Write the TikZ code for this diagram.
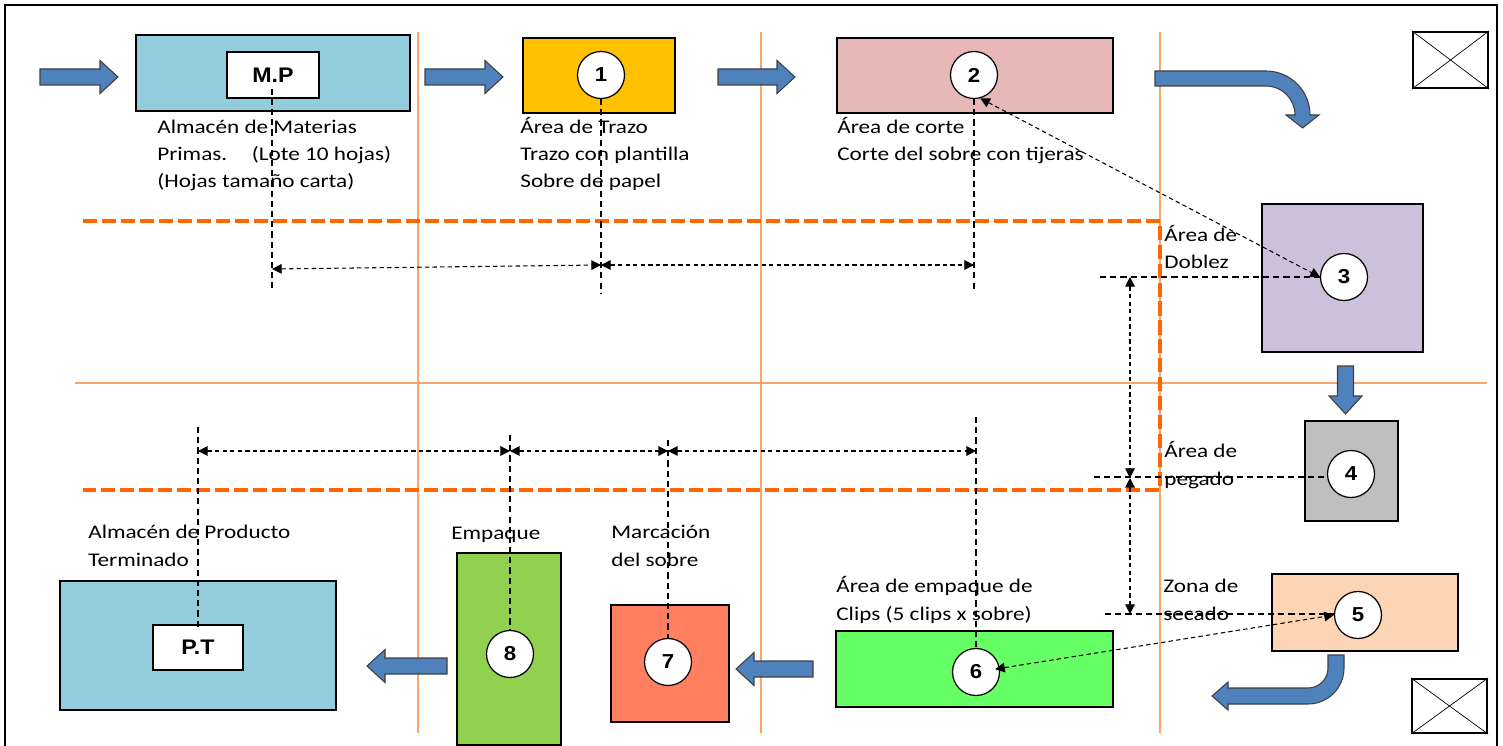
\documentclass[tikz,border=0pt]{standalone}
\usepackage{fontspec}
\usetikzlibrary{arrows.meta,calc}
\newfontfamily\calib[FakeStretch=1.2]{Carlito}
\newfontfamily\arialf[FakeStretch=1.1]{Liberation Sans}
\newcommand\rotulo{\calib\fontsize{11}{15.4}\selectfont}
\newcommand\cifra{\arialf\bfseries\fontsize{11.5}{13}\selectfont}
\definecolor{celeste}{RGB}{147,205,221}
\definecolor{amarillo}{RGB}{255,192,0}
\definecolor{rosa}{RGB}{230,185,184}
\definecolor{lila}{RGB}{204,193,218}
\definecolor{gris}{RGB}{191,191,191}
\definecolor{durazno}{RGB}{252,213,181}
\definecolor{verdeclaro}{RGB}{102,255,102}
\definecolor{coral}{RGB}{255,127,95}
\definecolor{verde}{RGB}{146,208,80}
\definecolor{azulflecha}{RGB}{79,129,189}
\definecolor{naranja}{RGB}{255,102,0}
\definecolor{naranjaclaro}{RGB}{249,165,110}
\tikzset{
  caja/.style 2 args={minimum width=#1*0.02cm, minimum height=#2*0.02cm},
  area/.style={draw, line width=0.8pt, inner sep=0pt},
  etiq/.style={draw, fill=white, line width=0.8pt, inner sep=0pt, font=\arialf\bfseries\fontsize{12}{14}\selectfont},
  num/.style={circle, draw, fill=white, line width=0.7pt, minimum size=47*0.02cm, inner sep=0pt, font=\cifra},
  cruz/.style={draw, line width=1.3pt, inner sep=0pt},
  texto/.style={anchor=base west, align=left, inner sep=0pt, font=\rotulo},
  guia/.style={naranjaclaro, line width=0.9pt},
  zona/.style={naranja, line width=2.2pt, dash pattern=on 8pt off 2.8pt},
  ext/.style={line width=0.6pt, dash pattern=on 3.5pt off 2.3pt},
  cota/.style={line width=0.6pt, dash pattern=on 2.5pt off 1.8pt, <->},
  flechaest/.style={fill=azulflecha, draw=black!75, line width=0.6pt},
  pics/flecha/.style={code={
    \filldraw[flechaest] (0,-8) -- (#1-18,-8) -- (#1-18,-16.5) -- (#1,0)
      -- (#1-18,16.5) -- (#1-18,8) -- (0,8) -- cycle;}},
  >={Triangle[length=5.5pt,width=5.5pt]}
}
\begin{document}
\begin{tikzpicture}[x=0.02cm,y=-0.02cm]
\useasboundingbox (0,0) rectangle (1503,746);
\draw[line width=1.1pt] (5,746) -- (5,5) -- (1497,5) -- (1497,746);
% zonas
\draw[guia] (418,32) -- (418,733);
\draw[guia] (761,32) -- (761,733);
\draw[guia] (1160,32) -- (1160,733);
\draw[guia] (75,383) -- (1487,383);
\draw[zona] (83,221) -- (1160,221) -- (1160,490) -- (83,490);
% areas
\node[area, fill=celeste, caja={274}{76}] (mp) at (273,73) {};
\node[etiq, caja={92}{46}] (mpl) at (273,75) {M.P};
\node[area, fill=amarillo, caja={152}{75}] (b1) at (599,75.5) {};
\node[num] (c1) at (601,75) {1};
\node[area, fill=rosa, caja={276}{75}] (b2) at (975,75.5) {};
\node[num] (c2) at (974,75) {2};
\node[area, fill=lila, caja={161}{148}] (b3) at (1342.5,278) {};
\node[num] (c3) at (1344,277) {3};
\node[area, fill=gris, caja={93}{100}] (b4) at (1351.5,471) {};
\node[num] (c4) at (1351,474) {4};
\node[area, fill=durazno, caja={186}{77}] (b5) at (1365,612.5) {};
\node[num] (c5) at (1358,615) {5};
\node[area, fill=verdeclaro, caja={277}{76}] (b6) at (974.5,669) {};
\node[num] (c6) at (976,672) {6};
\node[area, fill=coral, caja={118}{117}] (b7) at (670,663.5) {};
\node[num] (c7) at (668,662) {7};
\node[area, fill=verde, caja={104}{192}] (b8) at (509,649) {};
\node[num] (c8) at (510,654) {8};
\node[area, fill=celeste, caja={276}{129}] (pt) at (198,645.5) {};
\node[etiq, caja={90}{45}] (ptl) at (198,647.5) {P.T};
\node[cruz, caja={75}{56}] (x1) at (1450.5,60) {};
\node[cruz, caja={75}{54}] (x2) at (1449.5,706) {};
\draw (x1.north west) -- (x1.south east) (x1.south west) -- (x1.north east);
\draw (x2.north west) -- (x2.south east) (x2.south west) -- (x2.north east);
% textos
\node[texto] (t0) at (157,188) {Almacén de Materias\\Primas.\hspace{14pt}(Lote 10 hojas)\\(Hojas tamaño carta)};
\node[texto] (t1) at (520,188) {Área de Trazo\\Trazo con plantilla\\Sobre de papel};
\node[texto] (t2) at (837,161) {Área de corte\\Corte del sobre con tijeras};
\node[texto] (t3) at (1164,269) {Área de\\Doblez};
\node[texto] (t4) at (1164,485) {Área de\\pegado};
\node[texto] (t5) at (1163,620) {Zona de\\secado};
\node[texto] (t6) at (836,620) {Área de empaque de\\Clips (5 clips x sobre)};
\node[texto] (t7) at (611,566) {Marcación\\del sobre};
\node[texto] (t8) at (451,539) {Empaque};
\node[texto] (t9) at (88,566) {Almacén de Producto\\Terminado};
% flechas de flujo
\pic at (40,77) {flecha=78};
\pic at (425,77) {flecha=78};
\pic at (718,77) {flecha=77};
\pic[rotate=-90] at (1345.5,366) {flecha=48};
\pic[rotate=180] at (813,669) {flecha=77};
\pic[rotate=180] at (447,666) {flecha=80};
\filldraw[flechaest] (1155,71) -- (1266,71) arc[start angle=-90, end angle=0, radius=44]
  -- (1319,115) -- (1302.5,128) -- (1286,115) -- (1295,115)
  arc[start angle=0, end angle=-90, radius=29] -- (1155,86) -- cycle;
\filldraw[flechaest] (1328,655) -- (1344,655) -- (1344,668) arc[start angle=0, end angle=90, radius=36]
  -- (1228,704) -- (1228,710) -- (1212,696) -- (1228,682) -- (1228,688) -- (1308,688)
  arc[start angle=90, end angle=0, radius=20] -- cycle;
% distancias
\coordinate (e0) at (272,292);
\coordinate (e1) at (601,293);
\coordinate (e2) at (974,292);
\draw[ext] ($(mpl.south)+(-1,-10)$) -- (e0);
\draw[ext] (c1.south) -- (e1);
\draw[ext] (c2.south) -- (e2);
\coordinate (d0) at (272,269);
\coordinate (d1) at (601,265);
\coordinate (d2) at (974,265);
\draw[cota] (d0) -- (d1);
\draw[cota] (d1) -- (d2);
\coordinate (f0) at (198,427);
\coordinate (f1) at (510,435);
\coordinate (f2) at (668,440);
\coordinate (f3) at (976,417);
\draw[ext] (f0) -- ($(ptl.north)+(0,5)$);
\draw[ext] (f1) -- (c8.north);
\draw[ext] (f2) -- (c7.north);
\draw[ext] (f3) -- (c6.north);
\coordinate (g0) at (198,451);
\coordinate (g1) at (510,451);
\coordinate (g2) at (668,451);
\coordinate (g3) at (976,451);
\draw[cota] (g0) -- (g1);
\draw[cota] (g1) -- (g2);
\draw[cota] (g2) -- (g3);
\coordinate (h0) at (1100,277);
\coordinate (h1) at (1094,477);
\coordinate (h2) at (1105,614);
\draw[ext] (h0) -- (h0 -| c3.west);
\draw[ext] (h1) -- (h1 -| c4.west);
\draw[ext] (h2) -- (h2 -| c5.west);
\coordinate (v0) at (1130,277);
\coordinate (v1) at (1130,478);
\coordinate (v2) at (1130,614);
\draw[cota] (v0) -- (v1);
\draw[cota] (v1) -- (v2);
\draw[cota] (c2.285) -- (c3.west);
\draw[cota] ($(c6.center)!11pt!(c5.center)$) -- (c5.west);
\end{tikzpicture}
\end{document}
